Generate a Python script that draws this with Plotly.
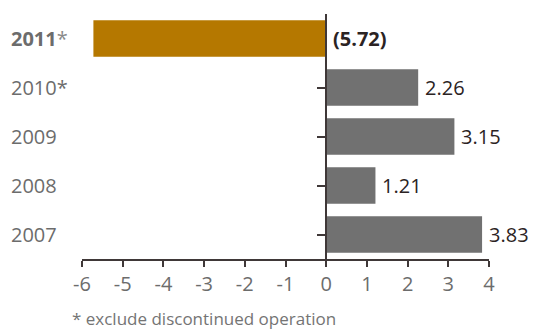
import plotly.graph_objects as go

# Earnings per share by year (2011 and 2010 exclude discontinued operation)
years = ["2007", "2008", "2009", "2010", "2011"]
eps = [3.83, 1.21, 3.15, 2.26, -5.72]
restated = [False, False, False, True, True]
x_ticks = [-6, -5, -4, -3, -2, -1, 0, 1, 2, 3, 4]
footnote = "* exclude discontinued operation"

GOLD = "#b57800"
GREY = "#717171"
AXIS = "#3f3838"
LABEL_GREY = "#6c6c6c"
VALUE_DARK = "#2b2323"
FONT = "Open Sans"

rows = list(range(len(years)))
bar_colors = [GOLD if y == years[-1] else GREY for y in years]

fig = go.Figure(
    go.Bar(
        x=eps,
        y=rows,
        orientation="h",
        marker=dict(color=bar_colors, line=dict(width=0)),
        hoverinfo="skip",
    )
)

annotations = []
for i, (yr, v, star) in enumerate(zip(years, eps, restated)):
    latest = yr == years[-1]
    # value label just right of the bar end (or of zero for a loss)
    txt = f"({abs(v):.2f})" if v < 0 else f"{v:.2f}"
    if latest:
        txt = f"<b>{txt}</b>"
    annotations.append(dict(
        x=max(v, 0), y=i, xref="x", yref="y", text=txt, showarrow=False,
        xanchor="left", yanchor="middle", xshift=5,
        font=dict(family=FONT, size=20, color=VALUE_DARK),
    ))
    # year label at the far left
    ylab = f"<b>{yr}</b>" if latest else yr
    if star:
        ylab += "<span style='color:#8a8a8a'>*</span>" if latest else "*"
    annotations.append(dict(
        x=-0.18, y=i, xref="paper", yref="y", text=ylab, showarrow=False,
        xanchor="left", yanchor="middle",
        font=dict(family=FONT, size=20, color=LABEL_GREY),
    ))

annotations.append(dict(
    x=-0.03, y=-0.242, xref="paper", yref="paper", text=footnote,
    showarrow=False, xanchor="left", yanchor="middle",
    font=dict(family=FONT, size=17, color="#747474"),
))

fig.update_layout(
    width=538, height=331,
    margin=dict(l=82, r=49, t=14, b=72),
    paper_bgcolor="white", plot_bgcolor="white",
    showlegend=False,
    bargap=0.26,
    annotations=annotations,
    xaxis=dict(
        range=[-6, 4], tickvals=x_ticks, ticktext=[str(t) for t in x_ticks],
        showgrid=False, zeroline=False,
        showline=True, linecolor=AXIS, linewidth=1.5,
        ticks="outside", ticklen=6, tickwidth=1.5, tickcolor=AXIS,
        tickfont=dict(family=FONT, size=20, color=LABEL_GREY),
        fixedrange=True,
    ),
    yaxis=dict(
        range=[-0.5, len(years) - 0.5],
        anchor="free", position=0.6,
        showgrid=False, zeroline=False,
        showline=True, linecolor=AXIS, linewidth=1.5,
        tickvals=rows[:-1], ticks="outside", ticklen=8, tickwidth=1.5,
        tickcolor=AXIS, showticklabels=False,
        fixedrange=True,
    ),
)

fig.write_html("out.html")
